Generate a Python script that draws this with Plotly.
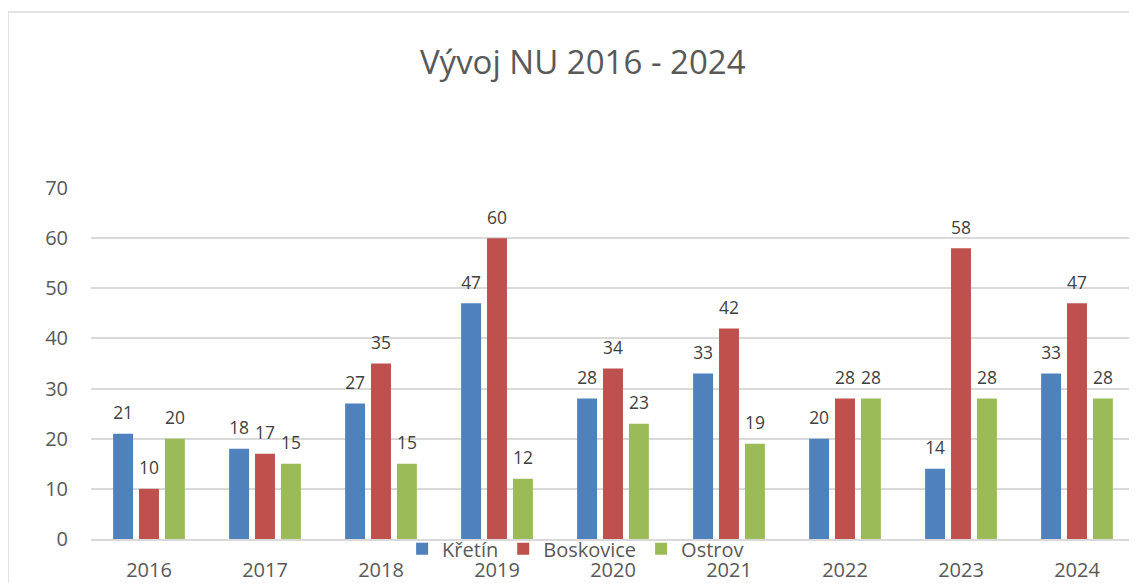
import plotly.graph_objects as go

years = ["2016", "2017", "2018", "2019", "2020", "2021", "2022", "2023", "2024"]
kretin = [21, 18, 27, 47, 28, 33, 20, 14, 33]
boskovice = [10, 17, 35, 60, 34, 42, 28, 58, 47]
ostrov = [20, 15, 15, 12, 23, 19, 28, 28, 28]

SERIES = [
    ("Křetín", kretin, "#4F81BD"),
    ("Boskovice", boskovice, "#C0504D"),
    ("Ostrov", ostrov, "#9BBB59"),
]

FONT = "Open Sans, Noto Sans, sans-serif"

fig = go.Figure()
for name, vals, color in SERIES:
    fig.add_trace(
        go.Bar(
            x=years,
            y=vals,
            name=name,
            marker=dict(color=color, line=dict(width=0)),
            text=vals,
            # small blank second line lifts the label a bit off the bar, like Excel
            texttemplate="<span style='font-size:19px'>%{y}</span><br> ",
            textposition="outside",
            textfont=dict(size=8, color="#404040", family=FONT),
            cliponaxis=False,
        )
    )

# the page body has an 8px margin, so everything is shifted up/left by 8px
fig.update_layout(
    width=1137,
    height=583,
    barmode="group",
    bargap=0.33,
    bargroupgap=0.23,
    margin=dict(l=83, r=10, t=180, b=52, autoexpand=False),
    paper_bgcolor="white",
    plot_bgcolor="white",
    font=dict(family=FONT, color="#595959"),
    title=dict(
        text="Vývoj NU 2016 - 2024",
        x=0.5055,
        xanchor="center",
        y=0.907,
        yanchor="middle",
        font=dict(size=33, color="#595959", family=FONT),
    ),
    legend=dict(
        orientation="h",
        x=0.298,
        xanchor="left",
        y=-0.028,
        yanchor="middle",
        bgcolor="rgba(0,0,0,0)",
        font=dict(size=20, color="#595959", family=FONT),
        itemwidth=30,
        traceorder="normal",
    ),
    uniformtext=dict(minsize=8, mode=False),
    showlegend=True,
)

fig.update_xaxes(
    automargin=False,
    showgrid=False,
    showline=True,
    linecolor="#d9d9d9",
    linewidth=2,
    tickfont=dict(size=20, color="#595959"),
    ticklabelstandoff=12,
    fixedrange=True,
)
fig.update_yaxes(
    automargin=False,
    range=[0, 70],
    dtick=10,
    showgrid=True,
    gridcolor="#d9d9d9",
    gridwidth=2,
    zeroline=False,
    tickfont=dict(size=20, color="#595959"),
    ticklabelstandoff=22,
    fixedrange=True,
)

# chart area border (Excel style)
fig.add_shape(
    type="rect",
    xref="paper",
    yref="paper",
    x0=-0.0795,
    x1=1.2,
    y0=-0.3,
    y1=1.5014,
    line=dict(color="#d9d9d9", width=1.5),
    fillcolor="rgba(0,0,0,0)",
    layer="below",
)

fig.write_html("out.html", config={"displayModeBar": False})
